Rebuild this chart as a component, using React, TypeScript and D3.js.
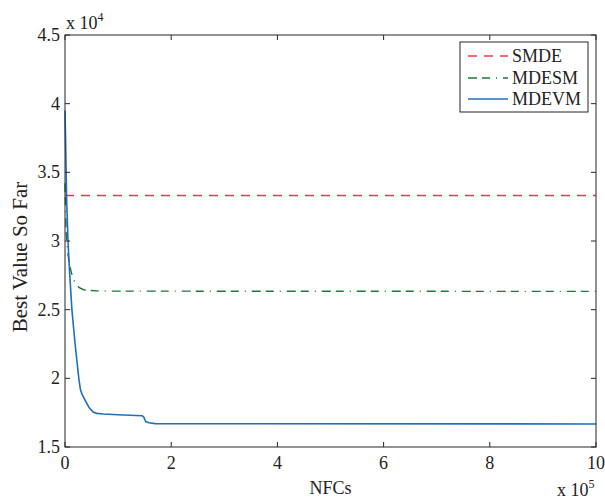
import React from "react";
import * as d3 from "d3";

const xTicks = [0, 200000, 400000, 600000, 800000, 1000000];
const yTicks = [15000, 20000, 25000, 30000, 35000, 40000, 45000];

const smdeX = [0, 1000000];
const smdeY = [33320, 33320];

const mdesmX = [0, 2000, 5000, 8000, 12000, 16000, 21000, 27000, 35000, 45000, 60000, 80000, 1000000];
const mdesmY = [34200, 30800, 29200, 28400, 27700, 27200, 26850, 26600, 26450, 26400, 26370, 26350, 26330];

const mdevmX = [0, 1500, 3000, 5600, 9000, 13000, 19000, 26000, 29000, 32000, 38000, 45000, 53000, 60000, 72000, 100000, 145000, 148000, 152000, 158000, 170000, 1000000];
const mdevmY = [39500, 36500, 33200, 30000, 27500, 25000, 22500, 20000, 19200, 18850, 18400, 17900, 17550, 17450, 17400, 17350, 17280, 17200, 16850, 16760, 16700, 16680];

const seriesNames = ["SMDE", "MDESM", "MDEVM"];
const seriesColors = ["#ec3b40", "#1c7a33", "#1f6fbc"];
const seriesDash = ["9,7", "9,5,8,6,1,6", null];
const seriesWidth = [1.5, 1.4, 1.6];

const W = 605, H = 500;
const L = 65, R = 596, T = 35, B = 447;
const FONT = "'Liberation Serif', 'Times New Roman', serif";
const FS = 18;
const AX = "#262626";

export default function App() {
  const x = d3.scaleLinear().domain([0, 1000000]).range([L, R]);
  const y = d3.scaleLinear().domain([15000, 45000]).range([B, T]);
  const line = d3.line<[number, number]>().x(d => x(d[0])).y(d => y(d[1]));
  const zip = (xs: number[], ys: number[]) => xs.map((v, i) => [v, ys[i]] as [number, number]);
  const series = [zip(smdeX, smdeY), zip(mdesmX, mdesmY), zip(mdevmX, mdevmY)];
  const tl = 5;
  const lgL = 460, lgT = 42, lgR = 588, lgB = 112;
  const rowY = [56, 78, 99];

  return (
    <svg width={W} height={H} style={{ position: "absolute", left: 0, top: 0, background: "#fff" }} fontFamily={FONT}>
      <rect x={0} y={0} width={W} height={H} fill="#fff" />
      <g>
        {series.map((s, i) => (
          <path key={i} d={line(s) || ""} fill="none" stroke={seriesColors[i]}
            strokeWidth={seriesWidth[i]} strokeDasharray={seriesDash[i] || undefined} />
        ))}
      </g>
      <rect x={L} y={T} width={R - L} height={B - T} fill="none" stroke={AX} strokeWidth={1} />
      {xTicks.map((t, i) => (
        <g key={"x" + i}>
          <line x1={x(t)} x2={x(t)} y1={B} y2={B - tl} stroke={AX} />
          <line x1={x(t)} x2={x(t)} y1={T} y2={T + tl} stroke={AX} />
          <text x={x(t)} y={469} textAnchor="middle" fontSize={FS} fill="#222">{d3.format("d")(t / 100000)}</text>
        </g>
      ))}
      {yTicks.map((t, i) => (
        <g key={"y" + i}>
          <line x1={L} x2={L + tl} y1={y(t)} y2={y(t)} stroke={AX} />
          <line x1={R} x2={R - tl} y1={y(t)} y2={y(t)} stroke={AX} />
          <text x={60} y={y(t) + 6} textAnchor="end" fontSize={FS} fill="#222">{String(t / 10000)}</text>
        </g>
      ))}
      <text x={66} y={29} fontSize={FS} fill="#222">x 10<tspan dy={-8} fontSize={12}>4</tspan></text>
      <text x={557} y={496} fontSize={FS} fill="#222">x 10<tspan dy={-8} fontSize={12}>5</tspan></text>
      <text x={(L + R) / 2} y={494} textAnchor="middle" fontSize={FS} fill="#222">NFCs</text>
      <text transform={`translate(27, ${(T + B) / 2 + 16}) rotate(-90)`} textAnchor="middle" fontSize={21} fill="#222">Best Value So Far</text>
      <rect x={lgL} y={lgT} width={lgR - lgL} height={lgB - lgT} fill="#fff" stroke={AX} strokeWidth={1} />
      {seriesNames.map((n, i) => (
        <g key={n}>
          <line x1={468} x2={508} y1={rowY[i]} y2={rowY[i]} stroke={seriesColors[i]}
            strokeWidth={seriesWidth[i]} strokeDasharray={seriesDash[i] || undefined} />
          <text x={512} y={rowY[i] + 6} fontSize={FS} fill="#222">{n}</text>
        </g>
      ))}
    </svg>
  );
}
